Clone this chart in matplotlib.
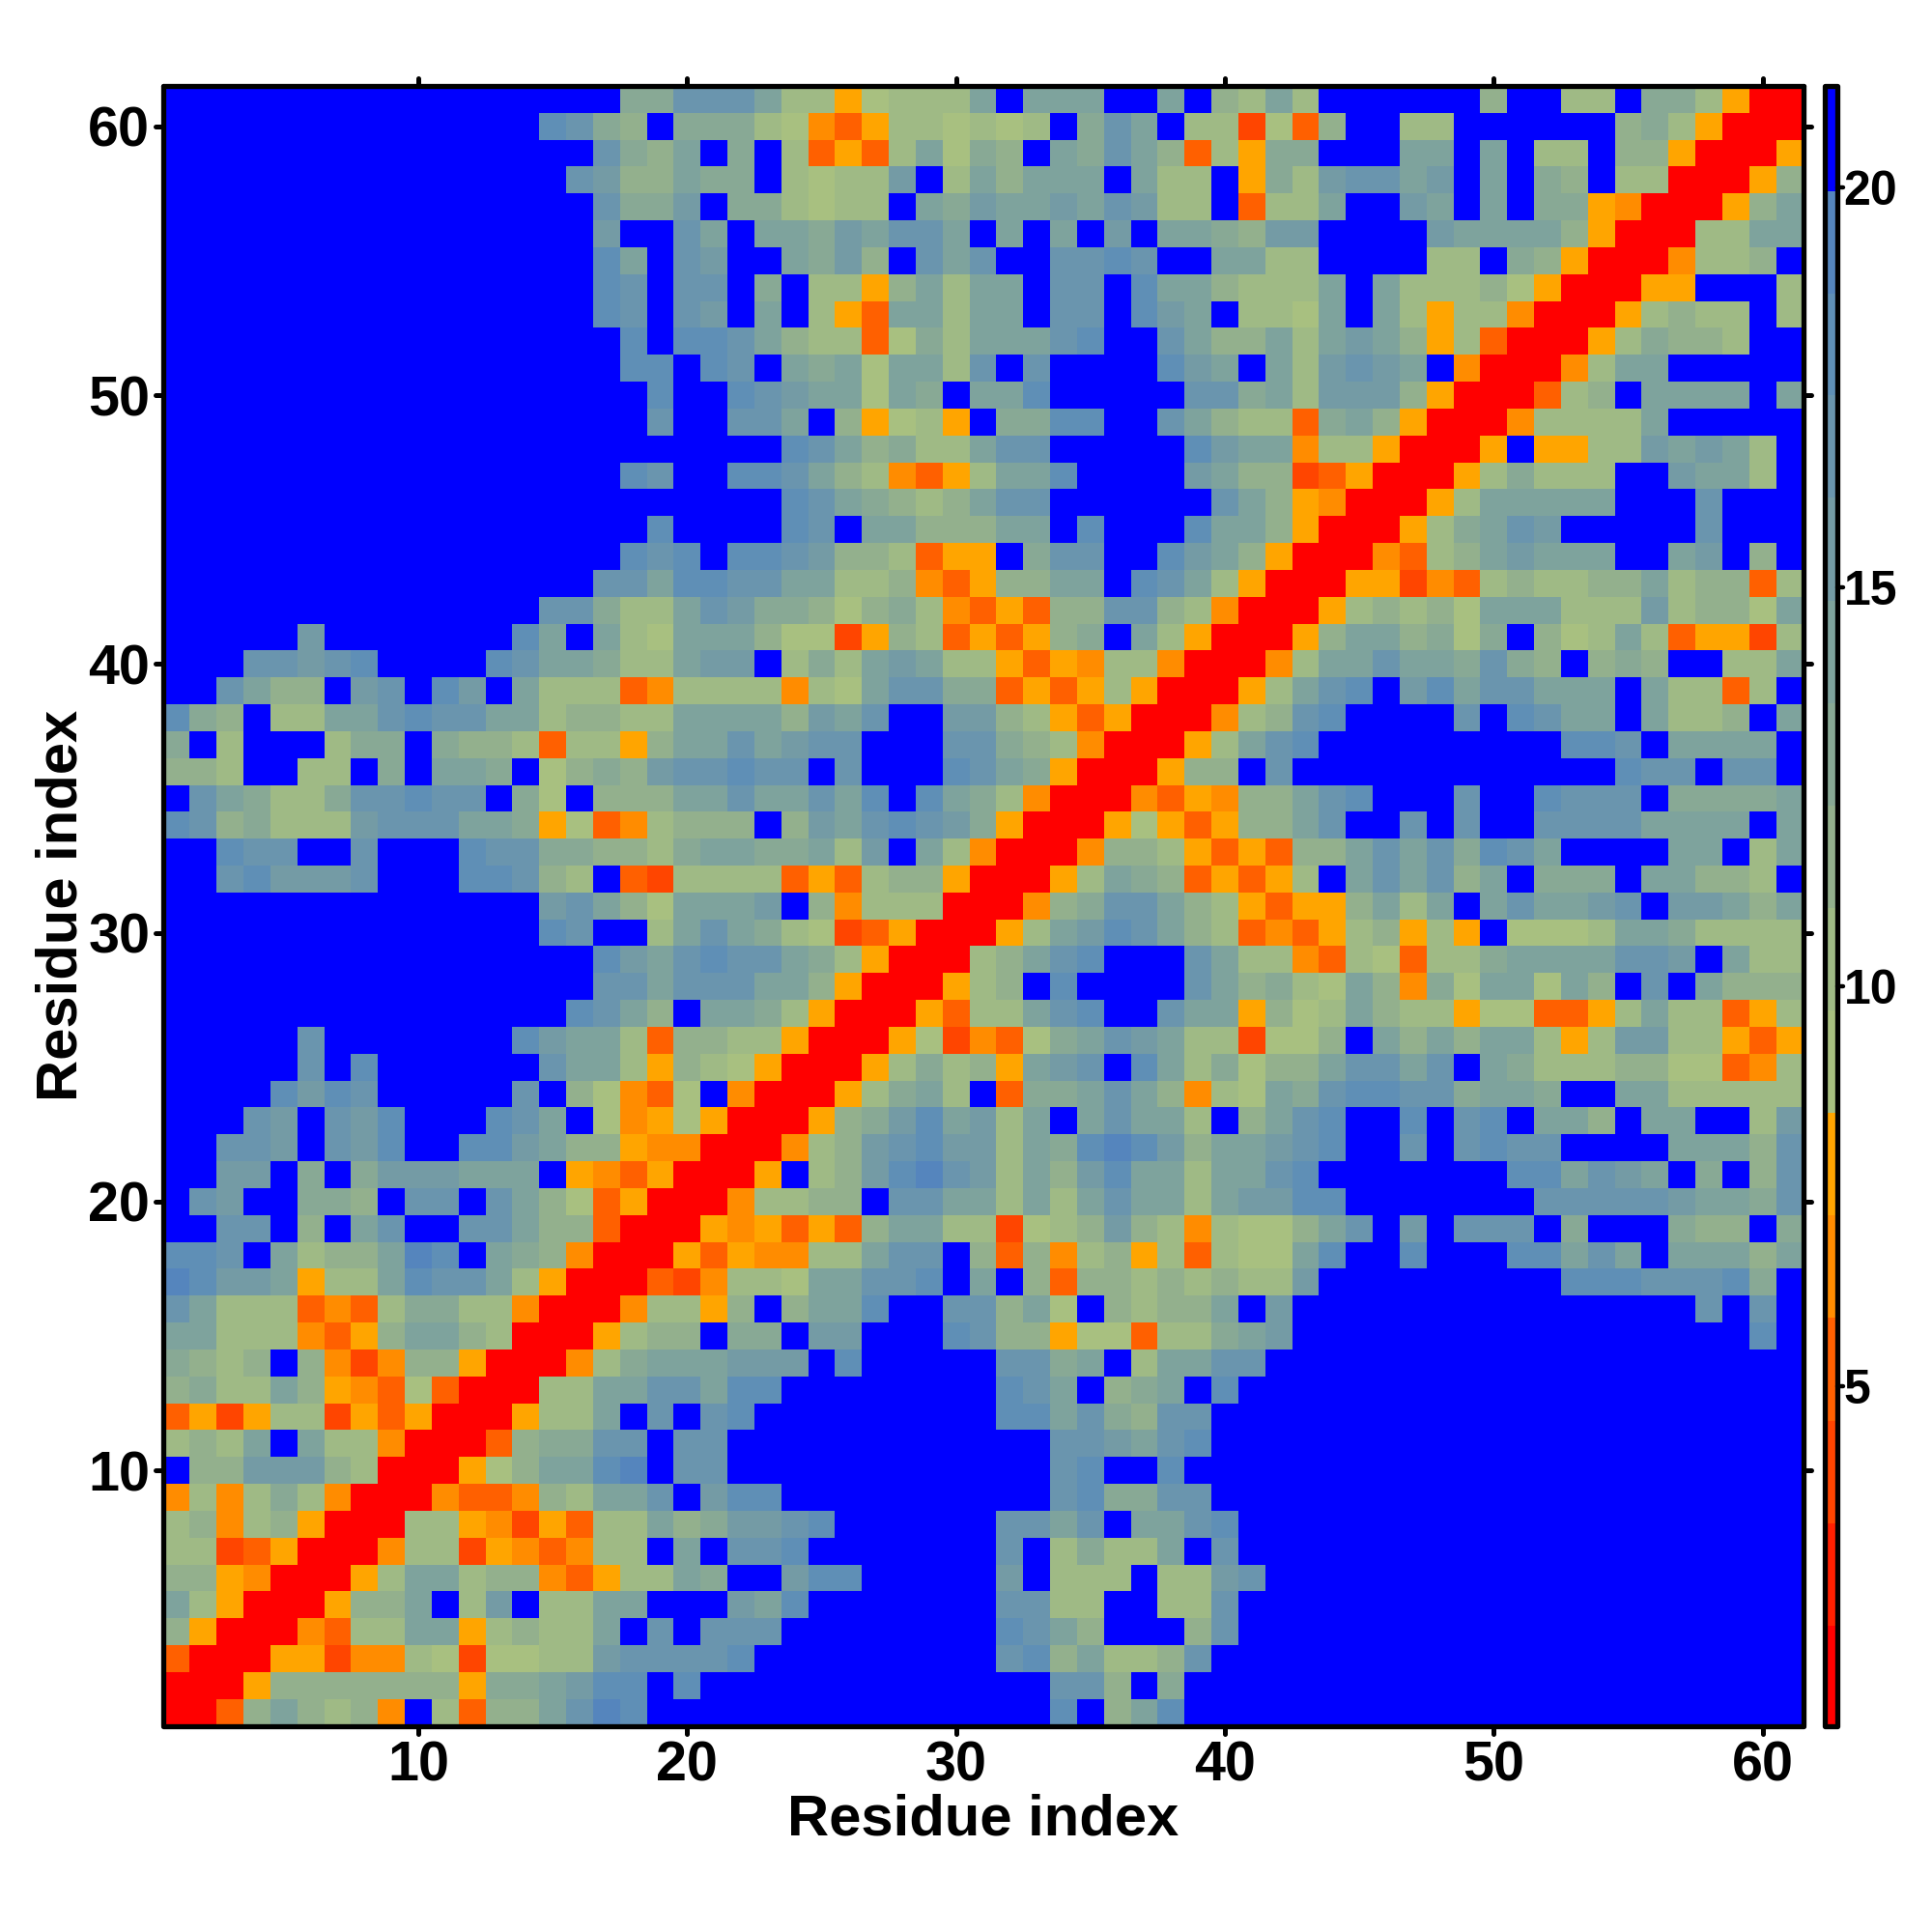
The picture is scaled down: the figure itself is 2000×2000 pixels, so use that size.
import numpy as np
import matplotlib
matplotlib.use("Agg")
import matplotlib.pyplot as plt
from matplotlib.colors import ListedColormap, BoundaryNorm
from matplotlib.markers import MarkerStyle

# Residue distance map, each character is one colour level of the bar (0 = red ... f = blue)
# rows run from residue 61 (top) down to residue 1, grouped per ten columns
level_rows = [
    "ffffffffff fffffff99c cca7756777 afaaaffaf8 7a7ffffff8 ff77f99750 0",
    "ffffffffff ffffdc98f9 9976435776 767f9caf77 2638ff77ff ffff897500 0",
    "ffffffffff ffffffc98a f9f73537a6 98fa9ca837 599fffaafa f77f885000 5",
    "ffffffffff fffffcb88a 99f7677bf7 a8aaafa77f 597bccabfa f98f770005 8",
    "ffffffffff ffffffc99b f997677fa9 baabacb77f 377affbafa f995400058 a",
    "ffffffffff ffffffbffc afaa9bacca fafafbfaa9 8bbffffbaa aa8500077a a",
    "ffffffffff ffffffdafc bffa9b8fca cffccdcffa a77ffff77f 9850004778 f",
    "ffffffffff ffffffdcfc cf9f7758a7 aafccfdaa8 777afa7778 6500055fff 7",
    "ffffffffff ffffffdcfc bfaf753aa7 aafccfdbaf 776afa7577 400057877f 7",
    "ffffffffff fffffffdfd dca8773697 aaacdffca8 8a7aba8573 000579887f f",
    "ffffffffff fffffffddf dcfa9a6aa7 cfcffffdba fa7bcbaf40 0047aaffff f",
    "ffffffffff ffffffffdf fdcbaa6a9f aadfffffcc 9a7bbb8500 0378faaaaf a",
    "ffffffffff ffffffffcf fccaf85675 f99ddffca8 7739a85000 47777affff f",
    "ffffffffff ffffffffff fffdca8977 accfffffdb aa47750005 f5577baba7 f",
    "ffffffffff fffffffdcf fddca87435 7aadffffba 8823500057 9777ffbaa7 f",
    "ffffffffff ffffffffff fffdca9878 accffffffc a85400057a aaaafffcff f",
    "ffffffffff ffffffffdf fffdcfaa88 8aafdfffda a85000579a cbfffffcff f",
    "ffffffffff fffffffdcd fddcb88735 5f9ccffdba 850004378a baaaffabf8 f",
    "ffffffffff ffffffccad dccaa77843 588aafdca7 5000552437 87788a7883 7",
    "ffffffffff ffffcc977a cb99868974 35388cc874 000578786a aa777b7886 a",
    "fffffbffff fffdafa76a aa86625873 53589fa750 0058aa8969 f867a73552 7",
    "fffccbcdff ffdcaa977a bbf797aba7 7535477400 047aacaa9c 98f898ff77 a",
    "ffca88fbcf dbfa777347 777476acc9 9353575000 57acdfbdac caaafa7737 f",
    "d98f77aacd ccaa78877a aaa8bacffb b875350004 78cdffffcf dcaafa778f a",
    "9f7fff799f 988737758a acabccfffc c987400057 acdfffffff ffddcfaaaa f",
    "887ff77f9f aa9f6898bc cdccfcfffd ca95000588 fcffffffff ffffdccfcc f",
    "fca9779ccd ccf96f888a acaacadfda 9740004354 88acdfffcf fdcccf9999 a",
    "dc89777bcc caa9563478 88f8bacdcb 9500056535 88acffcfcf fccccaaaaf a",
    "ffdccffcff fdcc998879 aa99a7bfa7 4000488753 5388acac9d caffffaaf7 a",
    "ffcdbbbcff fddc87f327 7773537885 00057a9835 357facac8a f999faa887 f",
    "ffffffffff ffffbca86a aabf847770 00489cca87 53558a7afa caabcfbba8 a",
    "ffffffffff ffffdcff7a ca97623500 057abdca87 343578575f 6667aa9777 7",
    "ffffffffff ffffffdbac dcca975000 78acdfffca 7743763779 aaaaccbfa7 7",
    "ffffffffff ffffffccac ccaa850005 78fdffffca 8976a8496a a6a8fcfa88 8",
    "ffffffffff fffffdca8f aa97500053 77acdffcaa 5867a87756 63357a7735 7",
    "fffffcffff fffdbaa738 8775000562 4369acba77 2668fa8a8a a757bb7753 5",
    "fffffcfdff ffffcaa758 7650005797 85abcfda79 688accacfa 9777886634 7",
    "ffffdbdcff fffcf86436 f4000579a7 f399aca847 6a9cddcc9a a9ffaa7777 7",
    "fffcbfcbdf ffdcaf6456 5000589bda b7afacaa7f 8acdffdfcd faa8faaff7 b",
    "ffccbfcbdf fddba88544 000478bcdb b7a9dedb8a abcdffcfcd ccffffaaa8 c",
    "ffbbf9f9bb baaaf54350 005f78bdec b7a8bdaa7a acdfffffff ddacbaf9f8 c",
    "fcbff998fc cfca863500 047788fcca a7a7acaa7a bbddffffff fcccccbaa9 c",
    "ffccf8facf fcca883000 5453538aa7 72678b8747 668acfbfcc cf9fff988f 9",
    "ddcfa788ae dfa9840005 354477accf 8384785737 66adffdfff ddacafaaa8 a",
    "edbba577ad cca7500032 4776aaccdf af83887878 77bfffffff ffdddcccd9 f",
    "ca77734379 9774000477 58f8aadffc c8a6f8788a fbffffffff fffffffcfc f",
    "aa7774358a a870005788 f99fbbfffd c885663779 abffffffff fffffffffd f",
    "9878f84248 85000479aa abbbfdffff fcc9af7aac cfffffffff ffffffffff f",
    "8977a85436 300077aacc addfffffff fdcaf89afd ffffffffff ffffffffff f",
    "3525772535 000577afcf cdffffffff fddac98ccf ffffffffff ffffffffff f",
    "787afa7740 003899ccfc cfffffffff fffccbacdf ffffffffff ffffffffff f",
    "f88bbb8700 0568aadefc cfffffffff fffcdffdff ffffffffff ffffffffff f",
    "4747974000 433487aacf bddfffffff fffcd99ccf ffffffffff ffffffffff f",
    "7847850007 75425377a8 9bbcdfffff fccacfaacd ffffffffff ffffffffff f",
    "7723500047 72543477fa fccdffffff fcf7977afc ffffffffff ffffffffff f",
    "885400057a a78843577a 9ffbddffff fbf777f77b cfffffffff ffffffffff f",
    "a75000588a f7bf77aaff fbadffffff fcc77ff77c ffffffffff ffffffffff f",
    "850004377a a57877afcf cccfffffff fdca8fff8c ffffffffff ffffffffff f",
    "3000552447 626677bccc cdffffffff fcd8a778cf ffffffffff ffffffffff f",
    "0005888888 8599abddfd ffffffffff fffcc8f9ff ffffffffff ffffffffff f",
    "0038a8784f 7388acedff ffffffffff fffdf8adff ffffffffff ffffffffff f",
]

bar_colors = ["#ff0000", "#ff2000", "#ff4500", "#ff6000", "#ff8c00", "#ffa500",
              "#a8c080", "#9fba85", "#93b08d", "#88a995", "#7ea39d", "#749ba5",
              "#6a95ae", "#5f8fb6", "#5585bd", "#0000ff"]
bar_edges = [0.75, 2.03, 3.31, 4.59, 5.88, 7.16, 8.44, 9.72, 11.01, 12.29,
             13.57, 14.85, 16.14, 17.42, 18.70, 19.98, 21.27]
bar_ticks = [5, 10, 15, 20]
axis_ticks = [10, 20, 30, 40, 50, 60]
axis_label = "Residue index"

rows = [r.replace(" ", "") for r in level_rows]
for i, r in enumerate(rows):
    if len(r) != 61:
        raise ValueError("row %d has %d cells" % (61 - i, len(r)))

edges = np.array(bar_edges)
centers = (edges[:-1] + edges[1:]) / 2
levels = np.array([[int(c, 16) for c in r] for r in rows])[::-1]
dist = centers[levels]

plt.rcParams["font.family"] = ["Liberation Sans", "DejaVu Sans"]
plt.rcParams["font.weight"] = "bold"

W = 2000.0
fig = plt.figure(figsize=(10, 10), dpi=200)
ax = fig.add_axes([168.5 / W, 1 - 1786.5 / W, (1866.5 - 168.5) / W, (1786.5 - 89) / W])
cax = fig.add_axes([1888.5 / W, 1 - 1786.5 / W, (1901.8 - 1888.5) / W, (1786.5 - 89) / W])

cmap = ListedColormap(bar_colors)
norm = BoundaryNorm(bar_edges, cmap.N)

res = np.arange(0.5, 62.5)
mesh = ax.pcolormesh(res, res, dist, cmap=cmap, norm=norm, linewidth=0, rasterized=True)
ax.set_xlim(0.5, 61.5)
ax.set_ylim(0.5, 61.5)
ax.set_xticks(axis_ticks)
ax.set_yticks(axis_ticks)
ax.tick_params(axis="x", which="major", top=True, direction="out",
               length=3.0, width=1.8, labelsize=20.7, pad=2.3)
ax.tick_params(axis="y", which="major", right=True, direction="out",
               length=3.0, width=1.8, labelsize=20.7, pad=1.8)
ax.set_xlabel(axis_label, fontsize=21.5, fontweight="bold", labelpad=0.5)
ax.set_ylabel(axis_label, fontsize=21.5, fontweight="bold", labelpad=0)
for s in ax.spines.values():
    s.set_linewidth(1.9)
    s.set_capstyle("round")

cb = fig.colorbar(mesh, cax=cax, boundaries=bar_edges, spacing="proportional", ticks=bar_ticks)
cb.solids.set_edgecolor("face")
cb.outline.set_linewidth(1.9)
cb.outline.set_joinstyle("round")
cb.minorticks_off()
cb.ax.tick_params(length=2.0, width=1.6, labelsize=18, pad=0.4)

# little round ends on the tick marks
for a in (ax, cax):
    for axis in (a.xaxis, a.yaxis):
        for t in axis.get_major_ticks():
            for ln in (t.tick1line, t.tick2line):
                ln.set_marker(MarkerStyle(ln.get_marker(), capstyle="round"))

fig.savefig("out.png", dpi=200, facecolor="white")
